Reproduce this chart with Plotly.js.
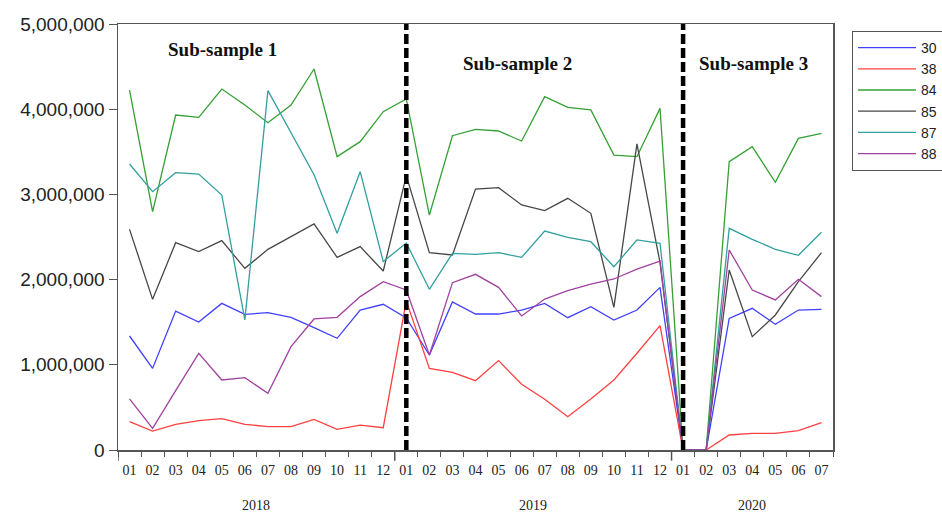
<!DOCTYPE html>
<html>
<head>
<meta charset="utf-8">
<script src="https://cdn.plot.ly/plotly-3.0.1.min.js"></script>
<style>html,body{margin:0;padding:0;background:#fff;}#chart{width:942px;height:512px;}</style>
</head>
<body>
<div id="chart"></div>
<script>
const years = ["2018","2018","2018","2018","2018","2018","2018","2018","2018","2018","2018","2018",
  "2019","2019","2019","2019","2019","2019","2019","2019","2019","2019","2019","2019",
  "2020","2020","2020","2020","2020","2020","2020"];
const months = ["01","02","03","04","05","06","07","08","09","10","11","12",
  "01","02","03","04","05","06","07","08","09","10","11","12",
  "01","02","03","04","05","06","07"];
const yearLabels = ["2018", "2019", "2020"];

const s30 = [1338000, 958000, 1631000, 1502000, 1721000, 1592000, 1612000, 1557000, 1436000, 1311000, 1643000, 1710000,
  1550000, 1115000, 1737000, 1596000, 1596000, 1643000, 1721000, 1553000, 1682000, 1526000, 1643000, 1909000,
  0, 0, 1545000, 1663000, 1475000, 1643000, 1651000];
const s38 = [333000, 223000, 301000, 344000, 368000, 301000, 274000, 274000, 360000, 243000, 293000, 262000,
  1750000, 958000, 912000, 814000, 1049000, 771000, 595000, 391000, 599000, 822000, 1135000, 1459000,
  0, 0, 176000, 196000, 196000, 227000, 321000];
const s84 = [4225000, 2797000, 3932000, 3905000, 4237000, 4049000, 3842000, 4049000, 4472000, 3443000, 3619000, 3971000,
  4120000, 2758000, 3689000, 3764000, 3744000, 3627000, 4147000, 4022000, 3991000, 3462000, 3443000, 4010000,
  0, 0, 3384000, 3560000, 3142000, 3658000, 3717000];
const s85 = [2590000, 1768000, 2433000, 2328000, 2457000, 2132000, 2355000, 2504000, 2653000, 2261000, 2387000, 2101000,
  3220000, 2316000, 2289000, 3063000, 3079000, 2876000, 2809000, 2954000, 2778000, 1674000, 3592000, 2200000,
  0, 0, 2113000, 1330000, 1585000, 1976000, 2316000];
const s87 = [3357000, 3032000, 3255000, 3239000, 2993000, 1526000, 4218000, 3720000, 3230000, 2543000, 3267000, 2211000,
  2430000, 1886000, 2308000, 2297000, 2316000, 2261000, 2570000, 2496000, 2445000, 2152000, 2465000, 2426000,
  0, 0, 2602000, 2473000, 2355000, 2285000, 2555000];
const s88 = [599000, 254000, 696000, 1135000, 822000, 849000, 665000, 1213000, 1538000, 1557000, 1800000, 1976000,
  1878000, 1115000, 1964000, 2062000, 1909000, 1573000, 1772000, 1870000, 1948000, 2007000, 2124000, 2218000,
  0, 0, 2347000, 1878000, 1761000, 2003000, 1800000];

const seriesNames = ["30", "38", "84", "85", "87", "88"];
const seriesColors = ["#4040ff", "#ff4040", "#35a035", "#474747", "#339f9f", "#9f429f"];
const seriesData = [s30, s38, s84, s85, s87, s88];

const breakYears = ["2019", "2020"];
const breakMonths = ["01", "01"];
const yRange = [0, 5000000];

// category keys built from the year/month arrays
const keys = years.map((y, i) => y + "-" + months[i]);

const traces = seriesData.map((d, k) => ({
  type: "scatter", mode: "lines",
  x: keys, y: d,
  name: seriesNames[k],
  line: {color: seriesColors[k], width: 1.3},
  hoverinfo: "skip"
}));

breakYears.forEach((yr, k) => {
  const key = yr + "-" + breakMonths[k];
  traces.push({
    type: "scatter", mode: "lines",
    x: [key, key],
    y: yRange,
    showlegend: false,
    line: {color: "#000000", width: 4.5, dash: "10px,4px"},
    hoverinfo: "skip"
  });
});

const serif = "Liberation Serif, Times New Roman, serif";
const sans = "Liberation Sans, Arial, sans-serif";

// year label positions: centre of each year's categories
const yearAnn = yearLabels.map(yl => {
  const idx = years.map((y, i) => y === yl ? i : -1).filter(i => i >= 0);
  return {
    text: yl, xref: "x", yref: "paper",
    x: (idx[0] + idx[idx.length - 1]) / 2, y: -0.131,
    xanchor: "center", yanchor: "middle", showarrow: false,
    font: {family: serif, size: 14, color: "#222"}
  };
});

// longer ticks at year boundaries
const boundaryShapes = [];
years.forEach((y, i) => {
  if (i === 0 || years[i - 1] !== y) {
    boundaryShapes.push({
      type: "line", xref: "x", yref: "paper",
      x0: i - 0.5, x1: i - 0.5, y0: 0, y1: -0.025,
      line: {color: "#555555", width: 1.5}
    });
  }
});

const layout = {
  width: 942, height: 512,
  margin: {l: 118, r: 109, t: 24, b: 62, autoexpand: false},
  paper_bgcolor: "#ffffff", plot_bgcolor: "#ffffff",
  showlegend: true,
  legend: {
    x: 1.0266, y: 0.9836, xanchor: "left", yanchor: "top",
    bordercolor: "#555555", borderwidth: 1,
    font: {family: sans, size: 14, color: "#222"},
    tracegroupgap: 0, itemwidth: 58
  },
  xaxis: {
    type: "category",
    categoryorder: "array", categoryarray: keys,
    range: [-0.5, keys.length - 0.5],
    showgrid: false, zeroline: false,
    showline: true, linecolor: "#555555", linewidth: 1.5, mirror: true,
    tickmode: "array", tickvals: keys, ticktext: months,
    ticks: "outside", ticklen: 5, tickcolor: "#555555", tickson: "boundaries",
    ticklabelstandoff: 7,
    tickangle: 0,
    tickfont: {family: serif, size: 14, color: "#222"}
  },
  yaxis: {
    range: yRange,
    showgrid: false, zeroline: false,
    showline: true, linecolor: "#555555", linewidth: 1.5, mirror: true,
    ticks: "outside", ticklen: 8, tickcolor: "#555555",
    tickvals: [0, 1000000, 2000000, 3000000, 4000000, 5000000],
    tickformat: ",d",
    tickfont: {family: sans, size: 19, color: "#222"}
  },
  shapes: boundaryShapes,
  annotations: [
    {text: "<b>Sub-sample 1</b>", x: 0.1455, y: 0.939},
    {text: "<b>Sub-sample 2</b>", x: 0.559, y: 0.908},
    {text: "<b>Sub-sample 3</b>", x: 0.8895, y: 0.908}
  ].map(a => Object.assign(a, {
    xref: "paper", yref: "paper", xanchor: "center", yanchor: "middle", showarrow: false,
    font: {family: serif, size: 19, color: "#111"}
  })).concat(yearAnn)
};

Plotly.newPlot("chart", traces, layout, {staticPlot: true, displayModeBar: false});
</script>
</body>
</html>
